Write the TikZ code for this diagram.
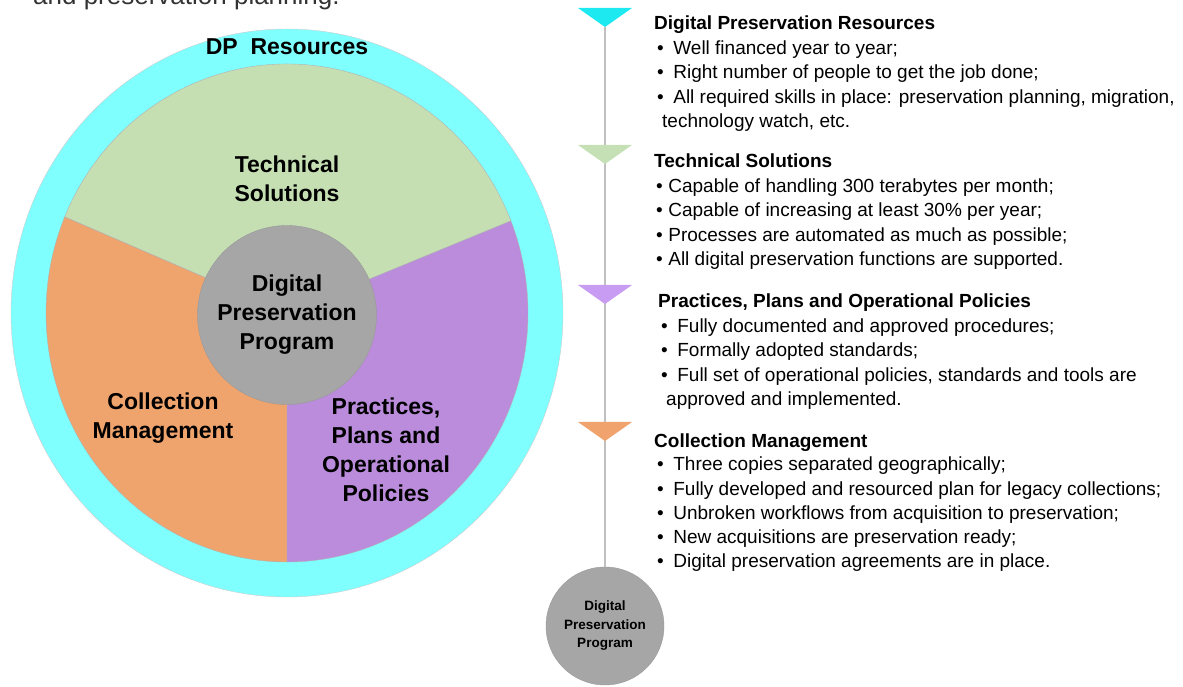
\documentclass[tikz,border=0pt]{standalone}
\usepackage{fontspec}
\setmainfont{Liberation Sans}

\definecolor{ringcyan}{HTML}{80FFFF}
\definecolor{techgreen}{HTML}{C5DFB3}
\definecolor{collorange}{HTML}{EFA46E}
\definecolor{practpurple}{HTML}{BA8CDB}
\definecolor{coregray}{HTML}{A6A6A6}
\definecolor{markcyan}{HTML}{1DE9F0}
\definecolor{markgreen}{HTML}{C5E0B4}
\definecolor{markpurple}{HTML}{C79CF2}
\definecolor{markorange}{HTML}{F0A36D}
\definecolor{axisgray}{HTML}{C0C0C0}

\begin{document}
\begin{tikzpicture}[x=1pt, y=1pt,
  wheeltext/.style={font=\fontsize{23}{29}\selectfont\bfseries, align=center, inner sep=0pt},
  headtext/.style={anchor=base west, inner sep=0pt, font=\fontsize{19}{22}\selectfont\bfseries},
  itemtext/.style={anchor=base west, inner sep=0pt, font=\fontsize{19}{22}\selectfont},
  core/.style={circle, fill=coregray, draw=black!40, align=center, inner sep=0pt}]

  \clip (0,0) rectangle (1183,686);

  %% line cut off at the top of the page
  \node[anchor=base west, inner sep=0pt, font=\fontsize{26}{30}\selectfont, text=black!80]
  (intro) at (33,681) {and preservation planning.};

  %% the wheel
  \coordinate (c) at (287,373);
  \draw[fill=ringcyan, draw=black!20] (c) ellipse [x radius=276, y radius=284];

  \foreach \a/\b/\col in {21.7/157.3/techgreen, 157.3/270/collorange, -90/21.7/practpurple}
    \draw[fill=\col, draw=black!30] (c) -- ++(\a:241 and 249)
      arc[start angle=\a, end angle=\b, x radius=241, y radius=249] -- cycle;

  \node[core, minimum size=179, font=\fontsize{23}{29}\selectfont\bfseries]
  (core) at (287,371) {Digital\\Preservation\\Program};

  \node[wheeltext, anchor=base] (dpres) at (287,631) {DP\ \ Resources};
  \node[wheeltext] (tech) at (287,507) {Technical\\Solutions};
  \node[wheeltext] (coll) at (163,268) {Collection\\Management};
  \node[wheeltext] (pract) at (386,236) {Practices,\\Plans and\\Operational\\Policies};

  %% the timeline
  \node[core, minimum size=118, font=\fontsize{13.5}{18.5}\selectfont\bfseries]
  (dppsmall) at (605,60) {Digital\\Preservation\\Program};
  \coordinate (top) at (605,659);
  \draw[axisgray, line width=1.6] (top) -- (dppsmall.north);

  \foreach \y/\col in {678/markcyan, 541/markgreen, 401/markpurple, 264/markorange}
    \fill[\col] (578,\y) -- (632,\y) -- (605,\y-19) -- cycle;

  %% DP resources
  \node[headtext] (reshead) at (654,656) {Digital Preservation Resources};
  \foreach \txt [count=\i] in {Well financed year to year;,
      Right number of people to get the job done;,
      {All required skills in place: preservation planning, migration,}}
    \node[itemtext] (res\i) at (657,656-24.4*\i) {\textbullet\hspace{9.5pt}\txt};
  \node[itemtext] (resmore) at (662,558.4) {technology watch, etc.};

  %% technical solutions
  \node[headtext] (techhead) at (654,518) {Technical Solutions};
  \foreach \txt [count=\i] in {Capable of handling 300 terabytes per month;,
      Capable of increasing at least 30\% per year;,
      Processes are automated as much as possible;,
      All digital preservation functions are supported.}
    \node[itemtext] (tech\i) at (656,518-24.4*\i) {\textbullet\hspace{5.5pt}\txt};

  %% practices, plans and policies
  \node[headtext] (practhead) at (658,378) {Practices, Plans and Operational Policies};
  \foreach \txt [count=\i] in {Fully documented and approved procedures;,
      Formally adopted standards;,
      {Full set of operational policies, standards and tools are}}
    \node[itemtext] (pract\i) at (661,378-24.4*\i) {\textbullet\hspace{9.5pt}\txt};
  \node[itemtext] (practmore) at (666,280.4) {approved and implemented.};

  %% collection management
  \node[headtext] (collhead) at (654,239) {Collection Management};
  \foreach \txt [count=\i] in {Three copies separated geographically;,
      Fully developed and resourced plan for legacy collections;,
      Unbroken workflows from acquisition to preservation;,
      New acquisitions are preservation ready;,
      Digital preservation agreements are in place.}
    \node[itemtext] (coll\i) at (657,239-24*\i) {\textbullet\hspace{9.5pt}\txt};

\end{tikzpicture}
\end{document}
